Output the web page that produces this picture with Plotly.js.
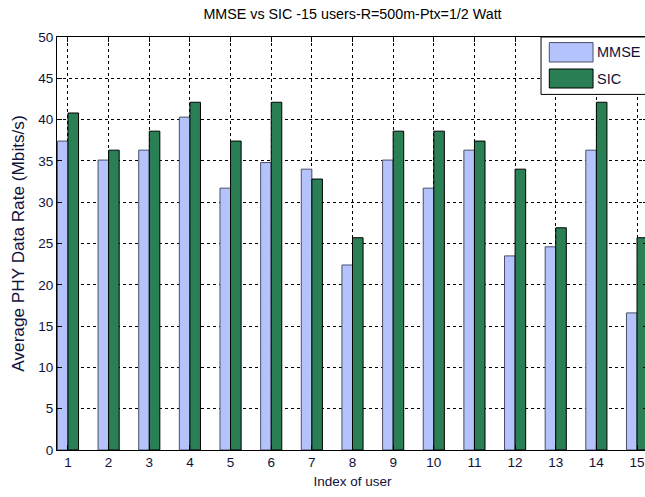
<!DOCTYPE html>
<html>
<head>
<meta charset="utf-8">
<script src="https://cdn.plot.ly/plotly-3.0.1.min.js"></script>
<style>
html,body{margin:0;padding:0;overflow:hidden;background:#fff;width:645px;height:497px;}
#chart{width:660px;height:497px;}
</style>
</head>
<body>
<div id="chart"></div>
<script>
const users = [1,2,3,4,5,6,7,8,9,10,11,12,13,14,15];
const mmse = [37.4, 35.1, 36.3, 40.3, 31.7, 34.8, 34.0, 22.4, 35.1, 31.7, 36.3, 23.5, 24.6, 36.3, 16.6];
const sic  = [40.8, 36.3, 38.6, 42.1, 37.4, 42.1, 32.8, 25.7, 38.6, 38.6, 37.4, 34.0, 26.9, 42.1, 25.7];
const seriesNames = ['MMSE', 'SIC'];
const seriesColors = ['#b4c3fb', '#2b7f55'];
const seriesLines = ['#4a5068', '#000000'];
const yTicks = [0,5,10,15,20,25,30,35,40,45,50];
const titleText = 'MMSE vs SIC -15 users-R=500m-Ptx=1/2 Watt';
const xTitle = 'Index of user';
const yTitle = 'Average PHY Data Rate (Mbits/s)';

const FONT = '"Liberation Sans", Arial, sans-serif';
const TXTCOL = '#10103a';

const traces = [mmse, sic].map((vals, i) => ({
  type: 'bar',
  x: users,
  y: vals,
  name: seriesNames[i],
  marker: {color: seriesColors[i], line: {color: seriesLines[i], width: 1}},
  showlegend: false,
  hoverinfo: 'skip'
}));

// custom legend (MATLAB style large swatches)
const shapes = [
  {type:'rect', xref:'paper', yref:'paper', x0:0.819, x1:1.0, y0:0.861, y1:1.0,
   line:{color:'#000', width:1}, fillcolor:'#fff', layer:'above'}
];
const annotations = [];
const swY = [[0.9395, 0.9865], [0.8765, 0.9225]];
seriesNames.forEach((n, i) => {
  shapes.push({type:'rect', xref:'paper', yref:'paper', x0:0.833, x1:0.907,
    y0:swY[i][0], y1:swY[i][1], fillcolor:seriesColors[i],
    line:{color: i===0 ? '#4a5068' : '#000', width:1}, layer:'above'});
  annotations.push({xref:'paper', yref:'paper', x:0.910, y:(swY[i][0]+swY[i][1])/2,
    text:n, showarrow:false, xanchor:'left', yanchor:'middle',
    font:{family:FONT, size:14.5, color:TXTCOL}});
});

const layout = {
  width: 660, height: 497,
  margin: {l:57, r:12, t:37, b:47},
  paper_bgcolor:'#fff', plot_bgcolor:'#fff',
  title: {text: titleText, x: 0.5, xref:'paper', y: 0.972, yanchor:'middle',
          font:{family:FONT, size:14.3, color:'#000'}},
  barmode: 'group', bargap: 0.48, bargroupgap: 0,
  font: {family: FONT, size: 13, color: '#000'},
  xaxis: {
    range: [0.73, 15.27], tickvals: users, ticktext: users.map(String),
    showgrid: true, gridcolor:'#000', griddash:'3px,3px', gridwidth:1,
    showline: true, linecolor:'#000', linewidth:1, mirror:'ticks',
    ticks:'inside', ticklen:5, tickcolor:'#000',
    zeroline:false,
    title:{text:xTitle, standoff:7, font:{family:FONT, size:13.5, color:TXTCOL}},
    tickfont:{family:FONT, size:13.5, color:TXTCOL}
  },
  yaxis: {
    range: [0, 50], tickvals: yTicks,
    showgrid: true, gridcolor:'#000', griddash:'3px,3px', gridwidth:1,
    showline: true, linecolor:'#000', linewidth:1, mirror:'ticks',
    ticks:'inside', ticklen:5, tickcolor:'#000',
    zeroline:false,
    title:{text:yTitle, standoff:9, font:{family:FONT, size:17.2, color:TXTCOL}},
    tickfont:{family:FONT, size:13.5, color:TXTCOL}
  },
  shapes: shapes,
  annotations: annotations,
  showlegend: false
};

Plotly.newPlot('chart', traces, layout, {displayModeBar:false, staticPlot:true});
</script>
</body>
</html>
